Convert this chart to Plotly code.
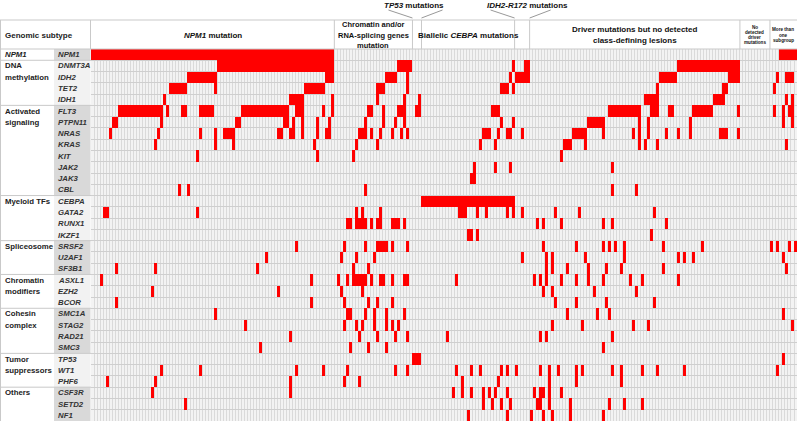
import plotly.graph_objects as go

W, H = 797, 423
GX0, GX1 = 91, 797      # grid left/right (px)
GY0, GY1 = 49, 421      # grid top/bottom (px)
HEAD_TOP = 20

genes = ["NPM1", "DNMT3A", "IDH2", "TET2", "IDH1", "FLT3", "PTPN11", "NRAS", "KRAS", "KIT",
         "JAK2", "JAK3", "CBL", "CEBPA", "GATA2", "RUNX1", "IKZF1", "SRSF2", "U2AF1", "SF3B1",
         "ASXL1", "EZH2", "BCOR", "SMC1A", "STAG2", "RAD21", "SMC3", "TP53", "WT1", "PHF6",
         "CSF3R", "SETD2", "NF1"]
group_labels = ["<i>NPM1</i>", "DNA\nmethylation", "Activated\nsignaling", "Myeloid TFs", "Spliceosome",
                "Chromatin\nmodifiers", "Cohesin\ncomplex", "Tumor\nsuppressors", "Others"]
group_sizes = [1, 4, 8, 4, 3, 3, 4, 3, 3]

subtype_labels = ["<i>NPM1</i> mutation", "Chromatin and/or\nRNA-splicing genes\nmutation", "",
                  "Biallelic <i>CEBPA</i> mutations", "",
                  "Driver mutations but no detected\nclass-defining lesions",
                  "No\ndetected\ndriver\nmutations", "More than\none\nsubgroup"]
subtype_sizes = [81, 26, 3, 31, 5, 70, 10, 9]

# mutated samples per gene: single column index or (first, last) run
NPM1_mut = [(0, 80), (229, 234)]
DNMT3A_mut = [(42, 80), (102, 106), 140, (144, 145), (195, 215)]
IDH2_mut = [(32, 41), (78, 80), (98, 101), 105, 139, (141, 145), (189, 194), (212, 215), 228, (231, 233)]
TET2_mut = [(26, 31), 41, (71, 77), (95, 97), 105, (136, 138), 140, 188, (210, 211), 227]
IDH1_mut = [24, (66, 70), 80, 95, 104, 109, (184, 188), (207, 210), 231, 233]
FLT3_mut = [(9, 23), 25, (30, 31), (36, 40), (50, 65), (68, 70), 77, 80, (92, 93), 97, (102, 103), 104,
            (108, 109), (133, 135), (172, 182), (186, 188), (192, 193), (200, 206), 215, 227, 230, (232, 233)]
PTPN11_mut = [(7, 8), 23, (48, 49), (64, 65), 67, 70, 75, 79, 91, 97, 101, 104, 136, 140, (165, 170),
              182, 185, 199, 230, 233]
NRAS_mut = [6, 22, 36, 41, (44, 47), (62, 63), 66, 67, 70, 75, 78, 79, (89, 91), 93, 96, 100, 103, 105,
            (130, 132), 135, 138, 139, 143, (160, 164), 170, 180, 182, 185, 191, 195, 199, (209, 211), 215]
KRAS_mut = [21, 41, 47, 74, 88, 95, 129, 134, (157, 159), 164, 182, 184, 188, 231]
KIT_mut = [35, 75, 87, 156]
JAK2_mut = [127, 134, 139, 173]
JAK3_mut = [(126, 127)]
CBL_mut = [29, 32, 91, 173, 181]
CEBPA_mut = [(110, 140)]
GATA2_mut = [(4, 5), 35, 88, 90, 96, (122, 124), 128, 131, 138, 140, 143, 154, 162, 187]
RUNX1_mut = [(85, 86), (88, 91), 93, 95, 96, (100, 102), 104, 148, 150, 156, 170, 173, 191]
IKZF1_mut = [125, 126, 128, 186]
SRSF2_mut = [68, 84, 91, (95, 98), 100, 105, 150, 161, 170, 172, 174, 177, 190, 203, 226, 228, 232, 234]
U2AF1_mut = [58, 83, 88, 94, 143, 151, 153, 164, 177, 195, 197, 200, 230]
SF3B1_mut = [8, 21, 55, 87, 92, 151, 153, 158, 165, 171, 176, 190, 231]
ASXL1_mut = [3, 73, 82, 85, (87, 91), 93, 96, 97, 100, 104, 105, 121, 147, 149, 151, 156, 161, 165,
             170, 179, 183, 195]
EZH2_mut = [20, 62, 83, 90, 150, 153, 167, 181]
BCOR_mut = [8, 73, 84, 92, 95, 100, 154, 161, 171, 187]
SMC1A_mut = [41, (85, 86), 91, 94, 98, 104, 158, 168, 172, 230]
STAG2_mut = [51, 84, 88, 90, 94, 98, 100, 102, 153, 163, 180, 185, 233]
RAD21_mut = [66, 89, 95, 101, 105, 118, 149, 151, 173]
SMC3_mut = [56, 86, 92, 98, 170]
TP53_mut = [(107, 109), 230]
WT1_mut = [23, 36, 68, 77, 85, 101, 105, 121, 126, 129, 136, 138, 141, 149, 152, 155, 161, 163, 173,
           176, 183, 188, 197, 228]
PHF6_mut = [5, 21, 66, 84, 89, 123, 135, 152, 161, 176]
CSF3R_mut = [20, 66, 120, 123, 126, 130, 132, 134, 138, 147, 149, 150, 152, 156]
SETD2_mut = [31, 130, 133, 136, 139, 148, 149, 152, 159, 172, 177, 183]
NF1_mut = [125, 138, 146, 150, 153, 159, 170]

gene_mutations = [NPM1_mut, DNMT3A_mut, IDH2_mut, TET2_mut, IDH1_mut, FLT3_mut, PTPN11_mut, NRAS_mut,
                  KRAS_mut, KIT_mut, JAK2_mut, JAK3_mut, CBL_mut, CEBPA_mut, GATA2_mut, RUNX1_mut,
                  IKZF1_mut, SRSF2_mut, U2AF1_mut, SF3B1_mut, ASXL1_mut, EZH2_mut, BCOR_mut, SMC1A_mut,
                  STAG2_mut, RAD21_mut, SMC3_mut, TP53_mut, WT1_mut, PHF6_mut, CSF3R_mut, SETD2_mut, NF1_mut]

N = sum(subtype_sizes)
G = len(genes)

z = [[None] * N for _ in range(G)]
for gi, runs in enumerate(gene_mutations):
    for r in runs:
        a, b = (r, r) if isinstance(r, int) else r
        for c in range(a, b + 1):
            z[gi][c] = 1


def px(x):
    return x / W


def py(y):
    return 1 - y / H


FONT = "Arial, Liberation Sans, sans-serif"
LINE = "#c9c9c9"

fig = go.Figure(go.Heatmap(
    z=z, x=list(range(N)), y=list(range(G)),
    colorscale=[[0, "#ff0000"], [1, "#ff0000"]], zmin=0, zmax=1,
    showscale=False, hoverinfo="skip"))

shapes = []
annotations = []

# ---- left table: gene-name column shading and group separators
start = 0
for k, (lab, size) in enumerate(zip(group_labels, group_sizes)):
    fill = "#d9d9d9" if k % 2 == 0 else "#f2f2f2"
    shapes.append(dict(type="rect", xref="paper", yref="y", x0=px(54), x1=px(90.5),
                       y0=start - 0.5, y1=start + size - 0.5, fillcolor=fill, line_width=0, layer="below"))
    if k > 0:
        shapes.append(dict(type="line", xref="paper", yref="y", x0=0, x1=px(GX0),
                           y0=start - 0.5, y1=start - 0.5, line=dict(color=LINE, width=1)))
    for j, part in enumerate(lab.split("\n")):
        annotations.append(dict(text=part, xref="paper", yref="y", x=px(3), y=start + j,
                                xanchor="left", yanchor="middle", showarrow=False,
                                font=dict(family=FONT, size=7.8, color="#222", weight="bold")))
    start += size

for gi, g in enumerate(genes):
    annotations.append(dict(text="<i>%s</i>" % g, xref="paper", yref="y", x=px(56), y=gi,
                            xanchor="left", yanchor="middle", showarrow=False,
                            font=dict(family=FONT, size=7.8, color="#333", weight="bold")))

# ---- header box
shapes.append(dict(type="line", xref="paper", yref="paper", x0=0, x1=1, y0=py(HEAD_TOP), y1=py(HEAD_TOP),
                   line=dict(color=LINE, width=1)))
shapes.append(dict(type="line", xref="paper", yref="paper", x0=0, x1=1, y0=py(GY0), y1=py(GY0),
                   line=dict(color=LINE, width=1)))
shapes.append(dict(type="line", xref="paper", yref="paper", x0=px(0.5), x1=px(0.5), y0=py(HEAD_TOP), y1=py(GY1),
                   line=dict(color=LINE, width=1)))
shapes.append(dict(type="line", xref="paper", yref="paper", x0=px(90.5), x1=px(90.5), y0=py(HEAD_TOP), y1=py(GY0),
                   line=dict(color=LINE, width=1)))
annotations.append(dict(text="Genomic subtype", xref="paper", yref="paper", x=px(3), y=py(35),
                        xanchor="left", yanchor="middle", showarrow=False,
                        font=dict(family=FONT, size=8, color="#222", weight="bold")))

c0 = 0
for k, (lab, size) in enumerate(zip(subtype_labels, subtype_sizes)):
    if k > 0:
        shapes.append(dict(type="line", xref="x", yref="paper", x0=c0 - 0.5, x1=c0 - 0.5,
                           y0=py(HEAD_TOP), y1=py(GY0), line=dict(color=LINE, width=1)))
    center = c0 + size / 2 - 0.5
    lines = lab.split("\n") if lab else []
    n = len(lines)
    if n:
        if size >= 20:
            fs, step = (7.5, 10) if n == 3 else (8, 11)
        else:
            fs, step = 4.6, 5.2
        mid = 35
        for j, part in enumerate(lines):
            yy = mid + (j - (n - 1) / 2) * step
            annotations.append(dict(text=part, xref="x", yref="paper", x=center, y=py(yy),
                                    xanchor="center", yanchor="middle", showarrow=False,
                                    font=dict(family=FONT, size=fs, color="#111", weight="bold")))
    c0 += size

# ---- callouts for the two narrow subtypes
b_tp53 = subtype_sizes[0] + subtype_sizes[1]
b_idh = b_tp53 + subtype_sizes[2] + subtype_sizes[3]
for (lo, hi, text, tx) in [(b_tp53, b_tp53 + subtype_sizes[2], "<i>TP53</i> mutations", 414),
                           (b_idh, b_idh + subtype_sizes[4], "<i>IDH2-R172</i> mutations", 527)]:
    annotations.append(dict(text=text, xref="paper", yref="paper", x=px(tx), y=py(5),
                            xanchor="center", yanchor="middle", showarrow=False,
                            font=dict(family=FONT, size=8, color="#111", weight="bold")))
    shapes.append(dict(type="line", xref="x", yref="paper", x0=lo - 0.5, y0=py(18),
                       x1=lo - 0.5 - 8, y1=py(10), line=dict(color="#999", width=1)))
    shapes.append(dict(type="line", xref="x", yref="paper", x0=hi - 0.5, y0=py(18),
                       x1=hi - 0.5 + 7, y1=py(10), line=dict(color="#999", width=1)))

fig.update_layout(
    width=W, height=H, margin=dict(l=0, r=0, t=0, b=0),
    paper_bgcolor="white", plot_bgcolor="#f3f3f3",
    shapes=shapes, annotations=annotations, showlegend=False,
    xaxis=dict(domain=[px(GX0), px(GX1)], range=[-0.5, N - 0.5], showgrid=True,
               tickvals=[i - 0.5 for i in range(N + 1)], showticklabels=False, ticks="",
               gridcolor="#dadada", gridwidth=1, zeroline=False, showline=False, fixedrange=True),
    yaxis=dict(domain=[py(GY1), py(GY0)], range=[G - 0.5, -0.5], showgrid=True,
               tickvals=[i - 0.5 for i in range(G + 1)], showticklabels=False, ticks="",
               gridcolor="#cfcfcf", gridwidth=1, zeroline=False, showline=False, fixedrange=True),
)

fig.write_html("out.html", config={"displayModeBar": False},
               post_script="document.body.style.margin='0px';document.body.style.overflow='hidden';")
